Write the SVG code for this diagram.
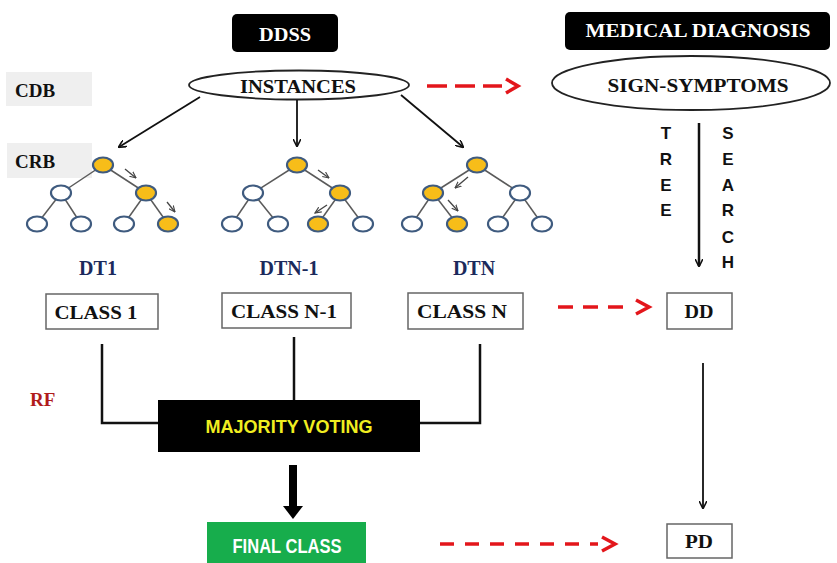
<svg xmlns="http://www.w3.org/2000/svg" width="837" height="563" viewBox="0 0 837 563">
<style>
.serif{font-family:"Liberation Serif","Times New Roman",serif;font-weight:bold;}
.sans{font-family:"Liberation Sans",Arial,sans-serif;font-weight:bold;}
.lbl{font-size:19px;fill:#111;text-anchor:middle;}
.hdr{font-size:19px;fill:#fff;text-anchor:middle;}
.dt{font-size:20px;fill:#1b2a5c;text-anchor:middle;}
.side{font-size:19px;fill:#111;}
.box{fill:#fff;stroke:#666;stroke-width:1.5;}
.gray{fill:#efefef;}
.wire{fill:none;stroke:#111;stroke-width:2.5;}
.thin{fill:none;stroke:#111;stroke-width:1.8;}
.red{fill:none;stroke:#e3161b;stroke-width:3.5;}
.te{stroke:#5a5a5a;stroke-width:1.5;}
.nw{fill:#fff;stroke:#3f5b7f;stroke-width:2.2;}
.ny{fill:#f7bd19;stroke:#3f5b7f;stroke-width:2.2;}
.ta{stroke:#444;stroke-width:1.3;fill:none;}
.vl{font-size:17px;fill:#111;text-anchor:middle;}
</style>
<defs>
<marker id="ah" viewBox="0 0 10 10" refX="9" refY="5" markerWidth="8" markerHeight="8" markerUnits="userSpaceOnUse" orient="auto">
<path d="M0,0 L10,5 L0,10" fill="none" stroke="#111" stroke-width="2"/>
</marker>
<marker id="ahs" viewBox="0 0 10 10" refX="9" refY="5" markerWidth="7" markerHeight="7" markerUnits="userSpaceOnUse" orient="auto">
<path d="M0,1 L9,5 L0,9" fill="none" stroke="#444" stroke-width="1.6"/>
</marker>
</defs>

<g id="labels">
<rect class="gray" x="6" y="72" width="86" height="34"/>
<text class="serif side" x="15" y="97">CDB</text>
<rect class="gray" x="7" y="143" width="85" height="35"/>
<text class="serif side" x="15" y="168">CRB</text>
<text class="serif" x="30" y="406" font-size="19" fill="#b01c1c">RF</text>
</g>

<g id="ddss">
<rect x="232" y="14" width="106" height="38" rx="5" fill="#000"/>
<text class="serif hdr" x="285" y="41" textLength="52" lengthAdjust="spacingAndGlyphs">DDSS</text>
</g>

<g id="medical-diagnosis">
<rect x="565" y="12" width="265" height="38" rx="5" fill="#000"/>
<text class="serif hdr" x="698" y="37" textLength="225" lengthAdjust="spacingAndGlyphs">MEDICAL DIAGNOSIS</text>
</g>

<g id="instances">
<ellipse cx="299" cy="85" rx="110" ry="14.5" fill="#fff" stroke="#222" stroke-width="1.8"/>
<text class="serif lbl" x="298" y="93" textLength="116" lengthAdjust="spacingAndGlyphs">INSTANCES</text>
</g>

<g id="sign-symptoms">
<ellipse cx="691" cy="83" rx="139" ry="27" fill="#fff" stroke="#222" stroke-width="1.8"/>
<text class="serif lbl" x="698" y="92" textLength="181" lengthAdjust="spacingAndGlyphs">SIGN-SYMPTOMS</text>
</g>

<g id="dt1">
<line class="te" x1="103" y1="165" x2="61" y2="193"/>
<line class="te" x1="103" y1="165" x2="146" y2="193"/>
<line class="te" x1="61" y1="193" x2="37" y2="224"/>
<line class="te" x1="61" y1="193" x2="81" y2="224"/>
<line class="te" x1="146" y1="193" x2="124" y2="224"/>
<line class="te" x1="146" y1="193" x2="168" y2="224"/>
<ellipse class="ny" cx="103" cy="165" rx="10" ry="7.5"/>
<ellipse class="nw" cx="61" cy="193" rx="10" ry="7.5"/>
<ellipse class="ny" cx="146" cy="193" rx="10" ry="7.5"/>
<ellipse class="nw" cx="37" cy="224" rx="10" ry="7.5"/>
<ellipse class="nw" cx="81" cy="224" rx="10" ry="7.5"/>
<ellipse class="nw" cx="124" cy="224" rx="10" ry="7.5"/>
<ellipse class="ny" cx="168" cy="224" rx="10" ry="7.5"/>
<line class="ta" x1="125" y1="169" x2="136" y2="178" marker-end="url(#ahs)"/>
<line class="ta" x1="167" y1="202" x2="175" y2="212" marker-end="url(#ahs)"/>
<text class="serif dt" x="98" y="275">DT1</text>
</g>

<g id="dtn-1">
<line class="te" x1="297" y1="165" x2="253" y2="193"/>
<line class="te" x1="297" y1="165" x2="340" y2="193"/>
<line class="te" x1="253" y1="193" x2="232" y2="224"/>
<line class="te" x1="253" y1="193" x2="278" y2="224"/>
<line class="te" x1="340" y1="193" x2="318" y2="224"/>
<line class="te" x1="340" y1="193" x2="363" y2="224"/>
<ellipse class="ny" cx="297" cy="165" rx="10" ry="7.5"/>
<ellipse class="nw" cx="253" cy="193" rx="10" ry="7.5"/>
<ellipse class="ny" cx="340" cy="193" rx="10" ry="7.5"/>
<ellipse class="nw" cx="232" cy="224" rx="10" ry="7.5"/>
<ellipse class="nw" cx="278" cy="224" rx="10" ry="7.5"/>
<ellipse class="ny" cx="318" cy="224" rx="10" ry="7.5"/>
<ellipse class="nw" cx="363" cy="224" rx="10" ry="7.5"/>
<line class="ta" x1="318" y1="170" x2="329" y2="178" marker-end="url(#ahs)"/>
<line class="ta" x1="327" y1="205" x2="315" y2="213" marker-end="url(#ahs)"/>
<text class="serif dt" x="289" y="275">DTN-1</text>
</g>

<g id="dtn">
<line class="te" x1="477" y1="165" x2="433" y2="193"/>
<line class="te" x1="477" y1="165" x2="520" y2="193"/>
<line class="te" x1="433" y1="193" x2="412" y2="224"/>
<line class="te" x1="433" y1="193" x2="457" y2="224"/>
<line class="te" x1="520" y1="193" x2="498" y2="224"/>
<line class="te" x1="520" y1="193" x2="542" y2="224"/>
<ellipse class="ny" cx="477" cy="165" rx="10" ry="7.5"/>
<ellipse class="ny" cx="433" cy="193" rx="10" ry="7.5"/>
<ellipse class="nw" cx="520" cy="193" rx="10" ry="7.5"/>
<ellipse class="nw" cx="412" cy="224" rx="10" ry="7.5"/>
<ellipse class="ny" cx="457" cy="224" rx="10" ry="7.5"/>
<ellipse class="nw" cx="498" cy="224" rx="10" ry="7.5"/>
<ellipse class="nw" cx="542" cy="224" rx="10" ry="7.5"/>
<line class="ta" x1="468" y1="177" x2="455" y2="188" marker-end="url(#ahs)"/>
<line class="ta" x1="448" y1="200" x2="458" y2="211" marker-end="url(#ahs)"/>
<text class="serif dt" x="474" y="275">DTN</text>
</g>

<g id="tree-search">
<text class="sans vl" x="666" y="139">T</text>
<text class="sans vl" x="666" y="165">R</text>
<text class="sans vl" x="666" y="191">E</text>
<text class="sans vl" x="666" y="216">E</text>
<text class="sans vl" x="728" y="139">S</text>
<text class="sans vl" x="728" y="165">E</text>
<text class="sans vl" x="728" y="191">A</text>
<text class="sans vl" x="728" y="216">R</text>
<text class="sans vl" x="728" y="243">C</text>
<text class="sans vl" x="728" y="268">H</text>
</g>

<g id="class-1">
<rect class="box" x="46" y="294" width="112" height="35"/>
<text class="serif lbl" x="96" y="319" textLength="83" lengthAdjust="spacingAndGlyphs">CLASS 1</text>
</g>
<g id="class-n-1">
<rect class="box" x="222" y="293" width="129" height="35"/>
<text class="serif lbl" x="284" y="318" textLength="106" lengthAdjust="spacingAndGlyphs">CLASS N-1</text>
</g>
<g id="class-n">
<rect class="box" x="408" y="293" width="115" height="36"/>
<text class="serif lbl" x="462" y="318" textLength="90" lengthAdjust="spacingAndGlyphs">CLASS N</text>
</g>
<g id="dd">
<rect class="box" x="667" y="293" width="65" height="36"/>
<text class="serif lbl" x="699" y="318" textLength="29" lengthAdjust="spacingAndGlyphs">DD</text>
</g>

<g id="majority-voting">
<rect x="158" y="400" width="262" height="52" fill="#000"/>
<text class="sans" x="289" y="433" font-size="18" fill="#f0ee20" text-anchor="middle" textLength="167" lengthAdjust="spacingAndGlyphs">MAJORITY VOTING</text>
</g>

<g id="final-class">
<rect x="207" y="522" width="159" height="41" fill="#17ad4c"/>
<text class="sans" x="287" y="553" font-size="20" fill="#fff" text-anchor="middle" textLength="109" lengthAdjust="spacingAndGlyphs">FINAL CLASS</text>
</g>

<g id="pd">
<rect class="box" x="667" y="524" width="65" height="34"/>
<text class="serif lbl" x="699" y="548" textLength="28" lengthAdjust="spacingAndGlyphs">PD</text>
</g>

<g id="connectors">
<line class="thin" x1="200" y1="97" x2="119" y2="147" marker-end="url(#ah)"/>
<line class="thin" x1="297" y1="100" x2="297" y2="146" marker-end="url(#ah)"/>
<line class="thin" x1="401" y1="95" x2="463" y2="147" marker-end="url(#ah)"/>
<line class="wire" x1="699" y1="123" x2="699" y2="266" marker-end="url(#ah)"/>
<line class="red" x1="427" y1="86" x2="502" y2="86" stroke-dasharray="20 8"/>
<path class="red" d="M506,79 L518,86 L506,93"/>
<line class="red" x1="558" y1="307" x2="632" y2="307" stroke-dasharray="15 10"/>
<path class="red" d="M636,300 L649,307 L636,314"/>
<line class="red" x1="440" y1="544" x2="598" y2="544" stroke-dasharray="14 11"/>
<path class="red" d="M602,537 L615,544 L602,551"/>
<polyline class="wire" points="102,344 102,423 158,423"/>
<line class="wire" x1="294" y1="337" x2="294" y2="400"/>
<polyline class="wire" points="480,344 480,423 420,423"/>
<line class="thin" x1="703" y1="363" x2="703" y2="508" marker-end="url(#ah)"/>
<line x1="293" y1="465" x2="293" y2="508" stroke="#000" stroke-width="8"/>
<path d="M283,506 L303,506 L293,519 Z" fill="#000"/>
</g>
</svg>
